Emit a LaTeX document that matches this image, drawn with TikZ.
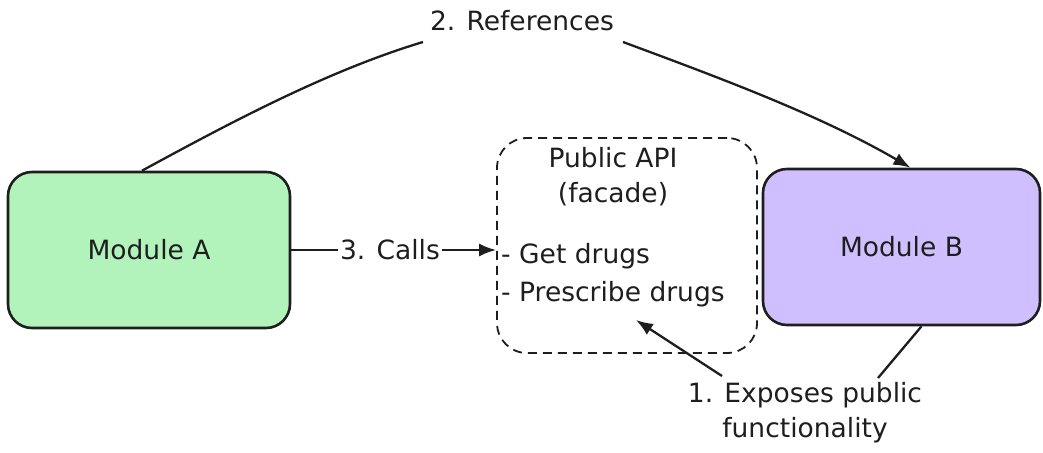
\documentclass[tikz,border=0pt]{standalone}
\usepackage{fontspec}
\setmainfont{DejaVu Sans}
\usetikzlibrary{arrows.meta}
\definecolor{modgreen}{HTML}{B2F2BB}
\definecolor{modpurple}{HTML}{D0BFFF}
\definecolor{ink}{HTML}{1E1E1E}
\begin{document}
\begin{tikzpicture}[x=1pt,y=-1pt,
  module/.style={draw=ink,line width=2.6pt,rounded corners=24pt,minimum width=#1,minimum height=156pt,inner sep=0pt},
  facadebox/.style={draw=ink,line width=1.8pt,dash pattern=on 9pt off 6pt,rounded corners=30pt,minimum width=260pt,minimum height=215pt,inner sep=0pt},
  lbl/.style={text=ink,font=\fontsize{26.5}{35}\selectfont,inner sep=2pt},
  conn/.style={draw=ink,line width=2.3pt},
  tip/.style={-{Latex[length=17pt,width=13pt]}}]
\useasboundingbox (0,0) rectangle (1043,452);

% modules and the facade
\node[module=282pt,fill=modgreen] (A) at (149,250) {};
\node[lbl] at (A.center) {Module A};
\node[module=277pt,fill=modpurple] (B) at (901.5,247) {};
\node[lbl] at (B.center) {Module B};
\node[facadebox] (F) at (627,245.5) {};

% facade contents
\node[lbl,align=center] (title) at (613,177) {Public API\\(facade)};
\node[lbl,anchor=west] (get) at (499,256) {- Get drugs};
\node[lbl,anchor=west] (pres) at (499,294) {- Prescribe drugs};

% connector labels
\node[lbl] (calls) at (390,250) {3. Calls};
\node[lbl] (refs) at (522,21) {2. References};
\node[lbl,align=center] (expo) at (805,413) {1. Exposes public\\functionality};

% module A calls the facade
\draw[conn] (A.east) -- (calls.west);
\draw[conn,tip] (calls.east) -- (calls.east -| F.west);

% module A references module B
\coordinate (aTop) at ([xshift=-7pt]A.north);
\coordinate (bTop) at ([xshift=9pt]B.north);
\coordinate (rIn) at (423,42);
\coordinate (rOut) at (623,42);
\draw[conn] (aTop) .. controls (235,120) and (330,70) .. (rIn);
\draw[conn,tip] (rOut) .. controls (720,78) and (820,115) .. (bTop);

% module B exposes the facade
\coordinate (bLow) at ([xshift=20pt]B.south);
\coordinate (eTop) at (878,378);
\coordinate (eLeft) at (722,376);
\coordinate (fIn) at (636,320);
\draw[conn] (bLow) -- (eTop);
\draw[conn,tip] (eLeft) -- (fIn);
\end{tikzpicture}
\end{document}
